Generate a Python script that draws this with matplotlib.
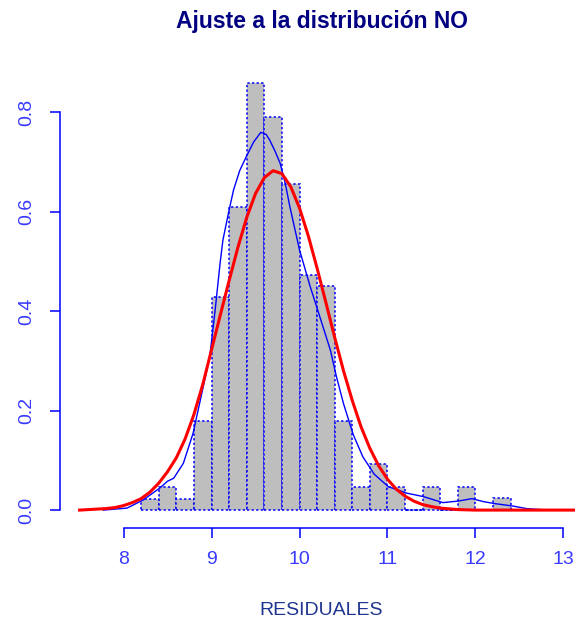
import numpy as np
import matplotlib
matplotlib.use("Agg")
from matplotlib import pyplot as plt

plt.rcParams["font.family"] = ["Liberation Sans", "DejaVu Sans"]

# histogram of residuals (density scale), bins of width 0.2
bin_edges = [8.2, 8.4, 8.6, 8.8, 9.0, 9.2, 9.4, 9.6, 9.8, 10.0, 10.2,
             10.4, 10.6, 10.8, 11.0, 11.2, 11.4, 11.6, 11.8, 12.0, 12.2, 12.4]
density = [0.022, 0.047, 0.022, 0.180, 0.429, 0.610, 0.858, 0.789, 0.655, 0.473,
           0.451, 0.180, 0.047, 0.092, 0.047, 0.0, 0.047, 0.0, 0.047, 0.0, 0.024]

# fitted NO curve
fit_x = [7.5, 7.6, 7.7, 7.8, 7.9, 8.0, 8.1, 8.2, 8.3, 8.4, 8.5, 8.6, 8.7, 8.8, 8.9,
         9.0, 9.1, 9.2, 9.3, 9.4, 9.5, 9.6, 9.7, 9.8, 9.9, 10.0, 10.1, 10.2, 10.3,
         10.4, 10.5, 10.6, 10.7, 10.8, 10.9, 11.0, 11.1, 11.2, 11.3, 11.4, 11.5,
         11.6, 11.8, 12.0, 12.5, 13.22]
fit_y = [0.000, 0.001, 0.002, 0.003, 0.005, 0.009, 0.015, 0.023, 0.036, 0.054, 0.077,
         0.105, 0.143, 0.192, 0.252, 0.322, 0.392, 0.461, 0.528, 0.588, 0.636, 0.668,
         0.682, 0.676, 0.650, 0.607, 0.551, 0.486, 0.417, 0.347, 0.280, 0.220, 0.167,
         0.124, 0.089, 0.062, 0.042, 0.028, 0.018, 0.011, 0.007, 0.004, 0.001, 0.000,
         0.000, 0.000]

# kernel density of the residuals
kde_x = [7.77, 8.04, 8.22, 8.41, 8.50, 8.57, 8.68, 8.79, 8.89, 8.98, 9.04, 9.10, 9.13,
         9.20, 9.25, 9.32, 9.40, 9.48, 9.56, 9.62, 9.66, 9.72, 9.78, 9.84, 9.89, 10.00,
         10.12, 10.23, 10.35, 10.42, 10.50, 10.61, 10.72, 10.85, 11.01, 11.22, 11.41,
         11.63, 11.80, 11.96, 12.09, 12.22, 12.43, 12.58, 12.83]
kde_y = [0.000, 0.004, 0.020, 0.044, 0.058, 0.064, 0.094, 0.154, 0.235, 0.308, 0.400,
         0.500, 0.543, 0.603, 0.643, 0.682, 0.712, 0.740, 0.759, 0.755, 0.744, 0.722,
         0.697, 0.655, 0.610, 0.523, 0.450, 0.389, 0.322, 0.268, 0.214, 0.152, 0.107,
         0.072, 0.047, 0.034, 0.027, 0.015, 0.018, 0.023, 0.017, 0.013, 0.008, 0.003,
         0.000]

W, H = 575, 622
fig = plt.figure(figsize=(W / 100, H / 100), dpi=100)
ax = fig.add_axes([60 / W, (H - 528) / H, (583 - 60) / W, (528 - 44.3) / H])

widths = np.diff(bin_edges)
ax.bar(bin_edges[:-1], density, width=widths, align="edge", color="#bebebe",
       edgecolor="blue", linewidth=1.1, linestyle=(0, (1.5, 1.5)), zorder=2)
ax.plot(kde_x, kde_y, color="blue", linewidth=1.0, zorder=3)
ax.plot(fit_x, fit_y, color="red", linewidth=2.2, zorder=4)

ax.set_xlim(7.278, 13.222)
ax.set_ylim(-0.036, 0.936)

for side in ["top", "right"]:
    ax.spines[side].set_visible(False)
for side in ["left", "bottom"]:
    ax.spines[side].set_color("blue")
    ax.spines[side].set_linewidth(1.1)
ax.spines["left"].set_bounds(0, 0.8)
ax.spines["bottom"].set_bounds(8, 13)

ax.set_xticks([8, 9, 10, 11, 12, 13])
ax.set_yticks([0.0, 0.2, 0.4, 0.6, 0.8])
ax.set_yticklabels(["0.0", "0.2", "0.4", "0.6", "0.8"], rotation=90, va="center")
ax.tick_params(axis="both", direction="out", length=7.5, width=1.1, color="blue",
               labelcolor="#3a3aff", labelsize=14)
ax.tick_params(axis="x", pad=9)
ax.tick_params(axis="y", pad=10)

ax.set_title("Ajuste a la distribución NO", fontsize=16.5, fontweight="bold",
             color="#000080", pad=11.5)
fig.text((60 + 583) / 2 / W, 1 - 610.5 / H, "RESIDUALES", fontsize=14,
         color="#1f3590", ha="center", va="center")

fig.savefig("out.png", dpi=100)
